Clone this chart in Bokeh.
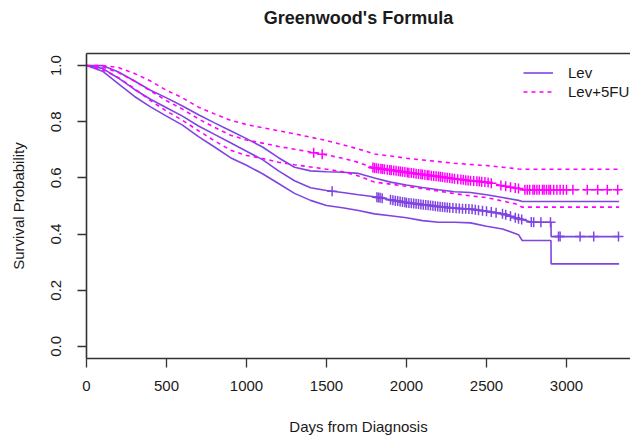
import numpy as np
from bokeh.plotting import figure
from bokeh.models import (ColumnDataSource, LinearAxis, FixedTicker, Legend,
                          LegendItem, Range1d)
from bokeh.embed import file_html
from bokeh.resources import INLINE

# ---------------- data ----------------
# Lev: Kaplan-Meier estimate and Greenwood confidence limits (days, survival)
lev_t = [0, 100, 200, 300, 400, 500, 600, 700, 800, 900, 1000, 1100, 1200, 1300,
         1400, 1500, 1600, 1700, 1800, 1900, 2000, 2100, 2200, 2300, 2400, 2500,
         2600, 2700, 2785, 2903, 2904, 3329]
lev_s = [1.0, 0.99, 0.955, 0.915, 0.88, 0.85, 0.82, 0.785, 0.755, 0.725, 0.695,
         0.665, 0.625, 0.59, 0.565, 0.555, 0.548, 0.54, 0.533, 0.522, 0.512, 0.505,
         0.498, 0.492, 0.489, 0.481, 0.472, 0.455, 0.442, 0.442, 0.391, 0.391]
lev_up_t = [0, 100, 200, 300, 400, 500, 600, 700, 800, 900, 1000, 1100, 1200, 1300,
            1400, 1500, 1600, 1700, 1800, 1900, 2000, 2100, 2200, 2300, 2400, 2500,
            2600, 2700, 2723, 3329]
lev_up = [1.0, 1.0, 0.977, 0.945, 0.912, 0.885, 0.856, 0.825, 0.796, 0.768, 0.74,
          0.71, 0.672, 0.638, 0.625, 0.622, 0.62, 0.616, 0.60, 0.585, 0.575, 0.566,
          0.558, 0.551, 0.548, 0.54, 0.53, 0.52, 0.516, 0.516]
lev_lo_t = [0, 100, 200, 300, 400, 500, 600, 700, 800, 900, 1000, 1100, 1200, 1300,
            1400, 1500, 1600, 1700, 1800, 1900, 2000, 2100, 2200, 2300, 2400, 2500,
            2600, 2700, 2723, 2903, 2904, 3329]
lev_lo = [1.0, 0.98, 0.935, 0.89, 0.853, 0.82, 0.788, 0.747, 0.71, 0.672, 0.645,
          0.615, 0.58, 0.545, 0.52, 0.502, 0.494, 0.484, 0.472, 0.465, 0.458, 0.448,
          0.442, 0.442, 0.44, 0.428, 0.418, 0.398, 0.377, 0.377, 0.294, 0.294]
lev_cens = [1535, 1815, 1825, 1835, 1848, 1900, 1915, 1930, 1945, 1960, 1975, 1990,
            2000, 2015, 2030, 2045, 2060, 2075, 2090, 2105, 2120, 2135, 2150, 2165,
            2180, 2195, 2210, 2225, 2240, 2255, 2270, 2290, 2310, 2330, 2350, 2370,
            2390, 2410, 2430, 2450, 2475, 2500, 2530, 2560, 2600, 2620, 2650, 2680,
            2700, 2720, 2780, 2795, 2840, 2900, 2950, 2960, 3085, 3170, 3325]

# Lev+5FU
fu_t = [0, 100, 200, 300, 400, 500, 600, 700, 800, 900, 1000, 1100, 1200, 1300,
        1400, 1500, 1600, 1700, 1800, 1900, 2000, 2100, 2200, 2300, 2400, 2500,
        2600, 2700, 2720, 3329]
fu_s = [1.0, 0.995, 0.975, 0.945, 0.91, 0.875, 0.845, 0.81, 0.78, 0.752, 0.735,
        0.724, 0.712, 0.702, 0.692, 0.682, 0.67, 0.655, 0.635, 0.628, 0.62, 0.612,
        0.605, 0.597, 0.59, 0.585, 0.572, 0.562, 0.558, 0.558]
fu_up = [1.0, 1.0, 0.993, 0.972, 0.945, 0.912, 0.885, 0.852, 0.828, 0.805, 0.79,
         0.779, 0.768, 0.757, 0.745, 0.733, 0.718, 0.703, 0.685, 0.678, 0.67, 0.664,
         0.658, 0.652, 0.648, 0.644, 0.638, 0.632, 0.631, 0.631]
fu_lo = [1.0, 0.985, 0.957, 0.918, 0.875, 0.838, 0.805, 0.768, 0.732, 0.699, 0.68,
         0.669, 0.656, 0.647, 0.639, 0.631, 0.622, 0.607, 0.585, 0.578, 0.57, 0.562,
         0.553, 0.544, 0.536, 0.53, 0.518, 0.505, 0.496, 0.496]
fu_cens = [1420, 1473, 1790, 1800, 1812, 1825, 1840, 1850, 1862, 1880, 1895, 1905,
           1920, 1935, 1950, 1962, 1975, 1990, 2005, 2015, 2030, 2045, 2060, 2075,
           2090, 2100, 2115, 2130, 2140, 2155, 2170, 2185, 2200, 2212, 2225, 2240,
           2255, 2270, 2285, 2300, 2320, 2340, 2355, 2370, 2385, 2400, 2420, 2440,
           2455, 2470, 2490, 2510, 2530, 2590, 2620, 2650, 2680, 2700, 2740, 2755,
           2770, 2790, 2800, 2815, 2830, 2850, 2860, 2875, 2890, 2900, 2920, 2940,
           2960, 2980, 3000, 3040, 3130, 3195, 3255, 3320]

x_ticks = [0, 500, 1000, 1500, 2000, 2500, 3000]
y_ticks = [0.0, 0.2, 0.4, 0.6, 0.8, 1.0]
y_tick_labels = ["0.0", "0.2", "0.4", "0.6", "0.8", "1.0"]
series_names = ["Lev", "Lev+5FU"]
title_text = "Greenwood's Formula"

# ---------------- styling ----------------
PURPLE = "#7F45E0"
MAGENTA = "#FF00FF"
AXIS = "#333333"
TEXT = "#1a1a1a"
FONT = "Liberation Sans"
DASH = "4 4"

p = figure(width=630, height=439, output_backend="svg", toolbar_location=None,
           x_range=Range1d(0, 3400), y_range=Range1d(-0.043, 1.043),
           min_border_left=86, min_border_right=0, min_border_top=53,
           min_border_bottom=81,
           x_axis_label="Days from Diagnosis", y_axis_label="Survival Probability")
p.grid.visible = False
p.outline_line_color = None
p.background_fill_color = "white"
p.border_fill_color = "white"

for ax in (p.xaxis[0], p.yaxis[0]):
    ax.axis_line_color = AXIS
    ax.axis_line_width = 1.6
    ax.major_tick_line_color = AXIS
    ax.major_tick_line_width = 1.3
    ax.major_tick_out = 9
    ax.major_tick_in = 0
    ax.minor_tick_line_color = None
    ax.major_label_text_font = FONT
    ax.major_label_text_font_size = "15px"
    ax.major_label_text_color = TEXT
    ax.axis_label_text_font = FONT
    ax.axis_label_text_font_size = "15px"
    ax.axis_label_text_font_style = "normal"
    ax.axis_label_text_color = TEXT

p.xaxis.ticker = FixedTicker(ticks=x_ticks)
p.yaxis.ticker = FixedTicker(ticks=y_ticks)
p.yaxis.major_label_overrides = {t: l for t, l in zip(y_ticks, y_tick_labels)}
p.yaxis.major_label_orientation = "vertical"
p.xaxis.major_label_standoff = 13
p.xaxis.axis_label_standoff = 24
p.yaxis.major_label_standoff = 16
p.yaxis.axis_label_standoff = 22

# top frame line, carrying the chart title as its label
top = LinearAxis(ticker=FixedTicker(ticks=[]), major_tick_out=0, major_tick_in=0,
                 minor_tick_out=0, minor_tick_in=0, major_label_standoff=0,
                 axis_line_color=AXIS, axis_line_width=1.6,
                 major_label_text_font_size="0px",
                 axis_label=title_text, axis_label_standoff=26,
                 axis_label_text_font=FONT, axis_label_text_font_size="18px",
                 axis_label_text_font_style="bold", axis_label_text_color=TEXT)
p.add_layout(top, "above")

# ---------------- curves ----------------
r_lev = p.line(lev_t, lev_s, line_color=PURPLE, line_width=1.6)
p.line(lev_up_t, lev_up, line_color=PURPLE, line_width=1.6)
p.line(lev_lo_t, lev_lo, line_color=PURPLE, line_width=1.6)

r_fu = p.line(fu_t, fu_s, line_color=MAGENTA, line_width=1.6, line_dash=DASH)
p.line(fu_t, fu_up, line_color=MAGENTA, line_width=1.6, line_dash=DASH)
p.line(fu_t, fu_lo, line_color=MAGENTA, line_width=1.6, line_dash=DASH)

lev_cs = ColumnDataSource(dict(x=lev_cens, y=np.interp(lev_cens, lev_t, lev_s)))
fu_cs = ColumnDataSource(dict(x=fu_cens, y=np.interp(fu_cens, fu_t, fu_s)))
p.scatter("x", "y", source=fu_cs, marker="cross", size=10, line_color=MAGENTA,
          line_width=1.5)
p.scatter("x", "y", source=lev_cs, marker="cross", size=10, line_color=PURPLE,
          line_width=1.5)

legend = Legend(items=[LegendItem(label=series_names[0], renderers=[r_lev]),
                       LegendItem(label=series_names[1], renderers=[r_fu])],
                location=(437, 257))
legend.border_line_color = None
legend.background_fill_alpha = 0
legend.padding = 0
legend.margin = 0
legend.spacing = 0
legend.glyph_width = 30
legend.glyph_height = 19
legend.label_height = 19
legend.label_standoff = 15
legend.label_text_font = FONT
legend.label_text_font_size = "15px"
legend.label_text_color = TEXT
p.add_layout(legend)

open("out.html", "w").write(file_html(p, INLINE))
